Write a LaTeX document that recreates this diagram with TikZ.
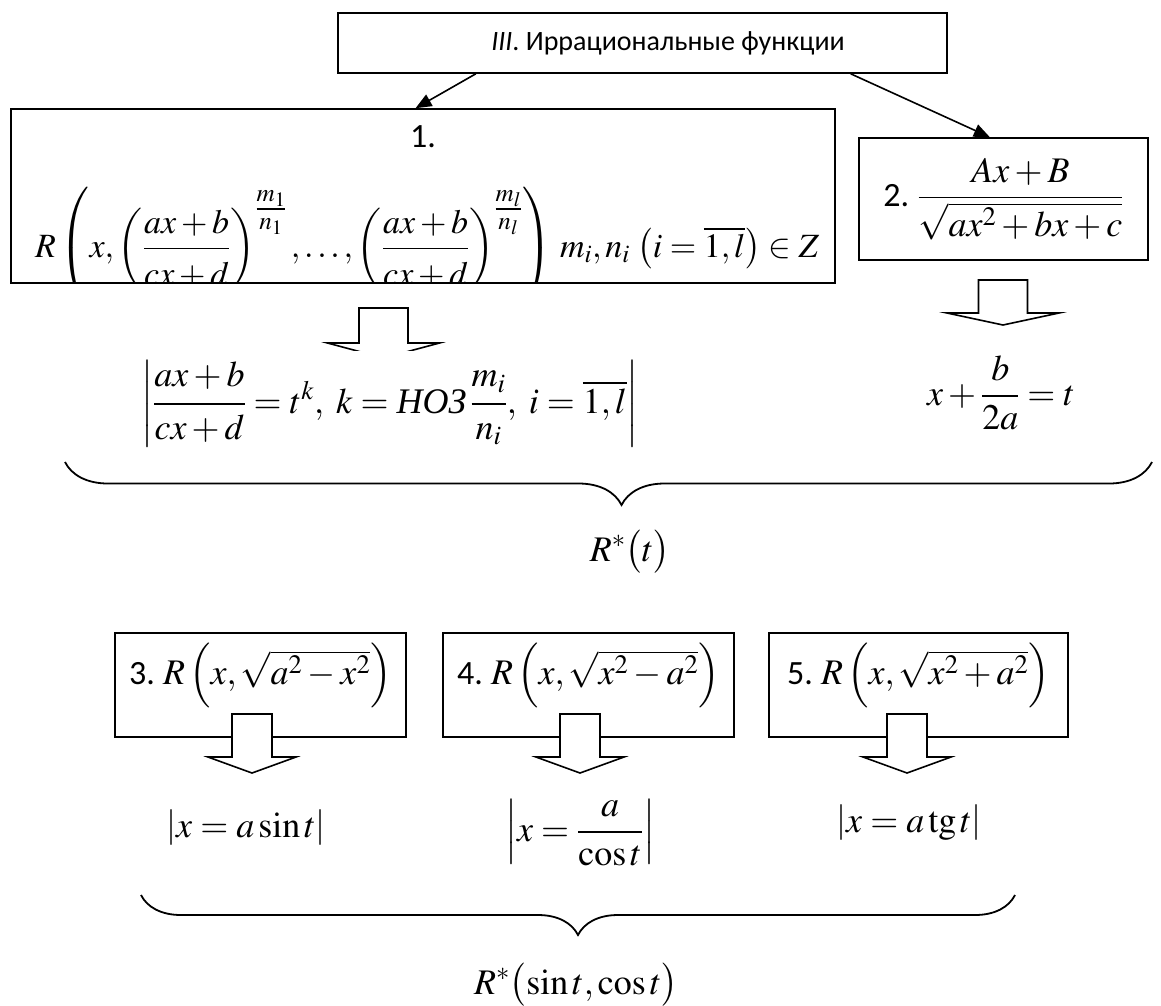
\documentclass[tikz,border=0pt]{standalone}
\usepackage{mathptmx}
\usepackage{amsmath}
\usepackage[no-math]{fontspec}
\setmainfont{Carlito}
\newfontfamily\cyrserif{Liberation Serif}
\usetikzlibrary{positioning, arrows.meta, calc, decorations.pathreplacing}
\newcommand{\tgop}{\mathop{\mathrm{tg}}\nolimits}
\newcommand{\hollowdown}[6]{%
  \draw[hollow] (#1-#5,#2) -- (#1-#5,#3) -- (#1-#6,#3) -- (#1,#4)
    -- (#1+#6,#3) -- (#1+#5,#3) -- (#1+#5,#2) -- cycle;%
}

\begin{document}
\begin{tikzpicture}[
  x=1pt, y=-1pt,
  font=\fontsize{36}{43}\selectfont,
  box/.style={draw, line width=1.6pt, inner xsep=0pt, inner ysep=0pt},
  lbl/.style={font=\fontsize{34}{40}\selectfont},
  eq/.style={inner sep=2pt},
  link/.style={line width=1.6pt, -{Triangle[length=16pt, width=13pt]}},
  hollow/.style={draw, fill=white, line width=1.6pt, line join=miter},
  brc/.style={decorate, line width=1.8pt,
    decoration={brace, mirror, amplitude=#1}},
]
  \useasboundingbox (0,0) rectangle (1161,1005);

  % Heading
  \node[box, minimum width=609pt, minimum height=60pt,
    font=\fontsize{28}{34}\selectfont] (ttl) at (642.5,43)
    {\hspace*{51pt}\textit{III}. Иррациональные функции};

  % Case 1 and case 2
  \node[box, lbl, minimum width=824pt, text height=38pt, text depth=136pt]
    (b1) at (423,196) {1.};
  \begin{scope}
    \clip (b1.south west) rectangle (b1.north east);
    \node[anchor=base west, inner sep=0pt, font=\fontsize{34}{40}\selectfont]
      (f0) at (35,257)
      {$R\left(x,\left(\dfrac{ax+b}{\rule{0pt}{32pt}cx+d}\right)^{\tfrac{m_1}{n_1}},
        \ldots,
        \left(\dfrac{ax+b}{\rule{0pt}{32pt}cx+d}\right)^{\tfrac{m_l}{n_l}}\right)\,
        m_i,n_i\,\left(i=\overline{1,l}\right)\in Z$};
  \end{scope}
  \node[box, minimum width=289pt, minimum height=122pt] (b2) at (1003.5,199)
    {{\fontsize{34}{40}\selectfont 2.}\ $\dfrac{Ax+B}{\sqrt{ax^{2}+bx+c}}$};

  \draw[link] ($(ttl.south west)!0.227!(ttl.south east)$)
    -- ($(b1.north west)!0.491!(b1.north east)$);
  \draw[link] ($(ttl.south west)!0.841!(ttl.south east)$)
    -- ($(b2.north west)!0.453!(b2.north east)$);

  % Substitutions
  \hollowdown{383.5}{308}{343}{358}{24.5}{56}
  \hollowdown{1003}{280}{313}{325}{24.5}{56}
  \node[eq, fill=white, inner ysep=10pt] (f1) at (390,404)
    {$\left|\dfrac{ax+b\rule[-12pt]{0pt}{0pt}}{\rule{0pt}{30pt}cx+d}=t^{k},\
      k=\mbox{\cyrserif\itshape НОЗ}\,
      \dfrac{m_i\rule[-12pt]{0pt}{0pt}}{\rule{0pt}{30pt}n_i},\
      i=\overline{1,l}\right|$};
  \node[eq] (f2) at (1001,393) {$x+\dfrac{b}{2a}=t$};

  \coordinate (u1) at (65,462);
  \coordinate (u2) at (1152,462);
  \draw[brc=43pt, decoration={aspect=0.512}] (u1) -- (u2);
  \node[eq] (rt) at (630,552) {$R^{*}\bigl(t\bigr)$};

  % Cases 3--5
  \foreach \idx/\cx/\bw/\rad in {3/260.5/291/{a^{2}-x^{2}},
      4/588.5/291/{x^{2}-a^{2}}, 5/918.5/299/{x^{2}+a^{2}}}
    \node[box, minimum width=\bw pt, text height=51pt, text depth=53pt]
      (b\idx) at (\cx,685)
      {{\fontsize{34}{40}\selectfont\idx.}\ $R\left(x,\sqrt{\rad}\right)$};

  \foreach \cx in {252, 580, 907}
    {\hollowdown{\cx}{714}{757}{773}{20}{44}}

  \node[eq] (s3) at (246,828) {$\left|x=a\sin t\right|$};
  \node[eq] (s4) at (580,833) {$\left|x=\dfrac{a}{\cos t}\right|$};
  \node[eq] (s5) at (909,823) {$\left|x=a\tgop t\right|$};

  \coordinate (v1) at (141,895);
  \coordinate (v2) at (1015,895);
  \draw[brc=40pt, decoration={aspect=0.5}] (v1) -- (v2);
  \node[eq] (rst) at (576,985) {$R^{*}\bigl(\sin t,\cos t\bigr)$};
\end{tikzpicture}
\end{document}
